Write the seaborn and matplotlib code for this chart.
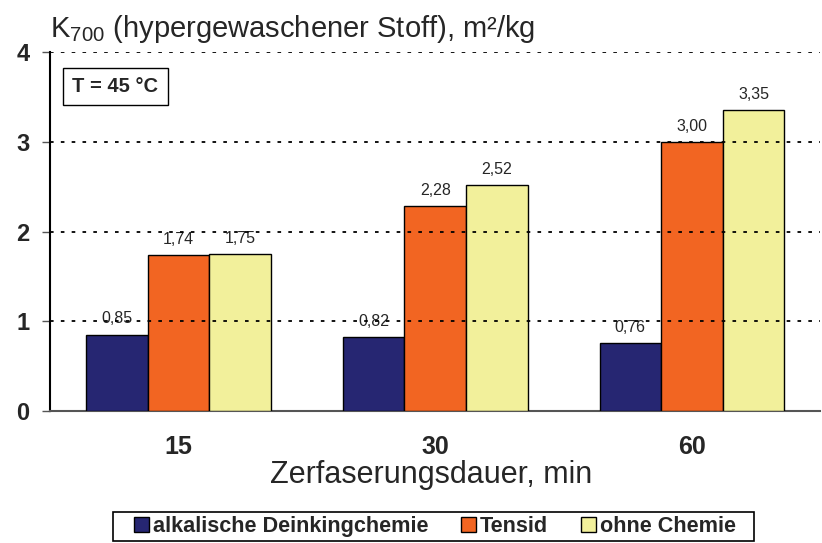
import pandas as pd
import matplotlib.pyplot as plt
import seaborn as sns

# data
dauer = ["15", "30", "60"]
alkalisch = [0.85, 0.82, 0.76]
tensid = [1.74, 2.28, 3.00]
ohne_chemie = [1.75, 2.52, 3.35]
serien = ["alkalische Deinkingchemie", "Tensid", "ohne Chemie"]
farben = ["#262672", "#F26522", "#F2F09B"]

df = pd.DataFrame({
    "Dauer": dauer * 3,
    "Wert": alkalisch + tensid + ohne_chemie,
    "Serie": [s for s in serien for _ in dauer],
})

sns.set_style("white")
plt.rcParams['font.family'] = ['Liberation Sans', 'DejaVu Sans']
plt.rcParams['mathtext.fontset'] = 'custom'
plt.rcParams['mathtext.rm'] = 'Liberation Sans'
plt.rcParams['mathtext.it'] = 'Liberation Sans'

fig = plt.figure(figsize=(8.22, 5.43), dpi=100)
ax = fig.add_axes([0.061, 0.243, 0.937, 0.661])

sns.barplot(data=df, x="Dauer", y="Wert", hue="Serie", palette=farben,
            saturation=1, width=0.72, edgecolor="black", linewidth=1,
            ax=ax, zorder=3)

ax.set_ylim(0, 4)
ax.set_xlim(-0.5, 2.5)
ax.set_yticks([0, 1, 2, 3, 4])
for y in [1, 2, 3, 4]:
    ax.axhline(y, color="black", linestyle=(0, (2, 4)), linewidth=1.3, zorder=5)

for cont in ax.containers:
    labels = [f"{b.get_height():.2f}".replace(".", ",") for b in cont]
    ax.bar_label(cont, labels=labels, padding=6, fontsize=11.5, zorder=4)

ax.tick_params(axis="x", length=0, labelsize=18, pad=17)
ax.tick_params(axis="y", length=6, width=1, color="#555555", direction="out",
               left=True, labelsize=17, pad=9)
for lab in ax.get_xticklabels() + ax.get_yticklabels():
    lab.set_fontweight("bold")

sns.despine(ax=ax, top=True, right=True)
ax.spines["left"].set_color("black")
ax.spines["bottom"].set_color("#555555")
ax.spines["left"].set_linewidth(1.5)
ax.spines["bottom"].set_linewidth(1.5)

ax.set_xlabel("")
ax.set_ylabel("")
fig.text(0.525, 0.1105, "Zerfaserungsdauer, min", fontsize=22,
         ha="center", va="baseline")
fig.text(0.061, 0.932, "K$_{700}$ (hypergewaschener Stoff), m²/kg", fontsize=21,
         ha="left", va="baseline")

ax.text(0.029, 0.905, "T = 45 °C", transform=ax.transAxes, fontsize=14.5,
        fontweight="bold", ha="left", va="center",
        bbox=dict(boxstyle="square,pad=0.45", facecolor="white", edgecolor="black"))

# legend without its own frame, box drawn separately
ax.legend_.remove()
handles = [plt.Rectangle((0, 0), 1, 1, facecolor=c, edgecolor="black") for c in farben]
fig.legend(handles, serien, loc="center", bbox_to_anchor=(0.529, 0.03), ncol=3,
           frameon=False, prop={"weight": "bold", "size": 15.6},
           handlelength=0.69, handleheight=0.69, handletextpad=0.2,
           columnspacing=1.5, borderpad=0)
fig.patches.append(plt.Rectangle((113 / 822, 0.003), (754 - 113) / 822, 0.054,
                                 transform=fig.transFigure, fill=False,
                                 edgecolor="black", linewidth=1.2))

plt.savefig("out.png", dpi=100)
